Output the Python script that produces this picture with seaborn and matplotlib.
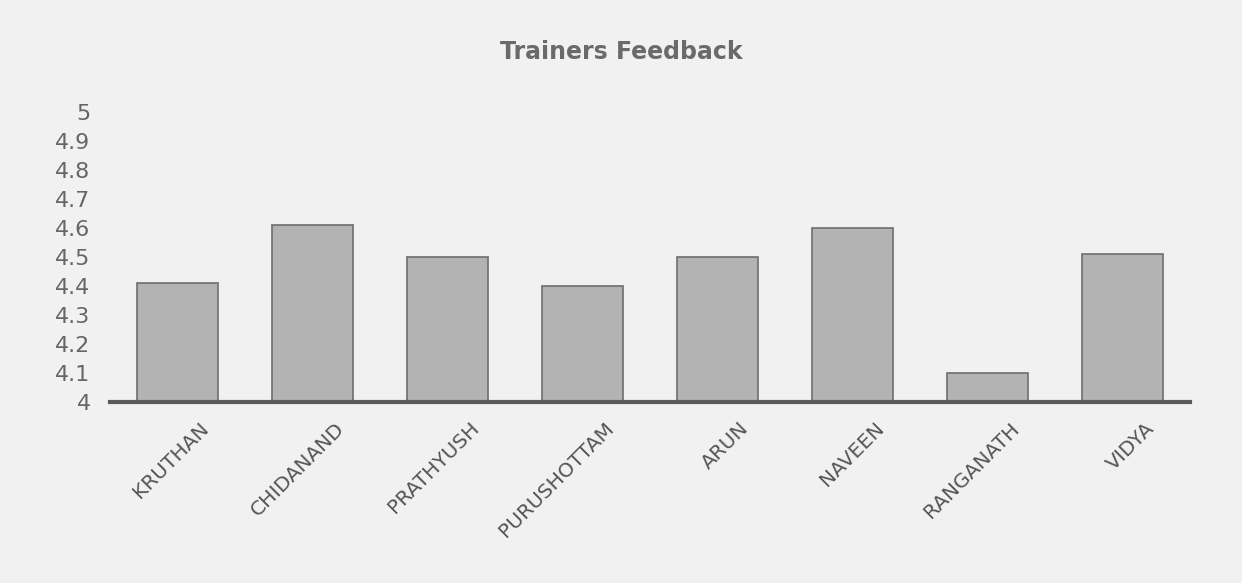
import matplotlib
matplotlib.use("Agg")
import matplotlib.pyplot as plt
import matplotlib.transforms as mtransforms
import seaborn as sns
import pandas as pd

trainers = ["KRUTHAN", "CHIDANAND", "PRATHYUSH", "PURUSHOTTAM", "ARUN", "NAVEEN", "RANGANATH", "VIDYA"]
scores = [4.41, 4.61, 4.50, 4.40, 4.50, 4.60, 4.10, 4.51]
y_ticks = [4, 4.1, 4.2, 4.3, 4.4, 4.5, 4.6, 4.7, 4.8, 4.9, 5]
title = "Trainers Feedback"

df = pd.DataFrame({"trainer": trainers, "score": scores})

sns.set_style("white")
plt.rcParams["font.family"] = ["DejaVu Sans"]

fig = plt.figure(figsize=(12.42, 5.83), dpi=100)
fig.patch.set_facecolor("#f1f1f1")
ax = fig.add_axes([0.0886, 0.3104, 0.8694, 0.4974])
ax.set_facecolor("none")

sns.barplot(data=df, x="trainer", y="score", ax=ax, color="#b3b3b3",
            width=0.6, saturation=1, edgecolor="#6e6e6e", linewidth=1.2)

ax.set_ylim(4, 5)
ax.set_xlim(-0.5, len(trainers) - 0.5)
ax.set_yticks(y_ticks)
ax.set_yticklabels([f"{t:g}" for t in y_ticks], fontsize=16, color="#666666")
ax.tick_params(axis="y", length=0, pad=14)
ax.tick_params(axis="x", length=0, pad=12)
ax.set_xlabel("")
ax.set_ylabel("")

for s in ["top", "right", "left"]:
    ax.spines[s].set_visible(False)
ax.spines["bottom"].set_color("#5a5a5a")
ax.spines["bottom"].set_linewidth(3)

ax.set_xticklabels(trainers, rotation=45, ha="right", rotation_mode="anchor",
                   fontsize=14.5, color="#555555")
offset = mtransforms.ScaledTranslation(0.22, 0, fig.dpi_scale_trans)
for lab in ax.get_xticklabels():
    lab.set_transform(lab.get_transform() + offset)

fig.text(0.5, 0.91, title, ha="center", va="center", fontsize=17,
         fontweight="bold", color="#6a6a6a")

fig.savefig("out.png", dpi=100, facecolor=fig.get_facecolor())
